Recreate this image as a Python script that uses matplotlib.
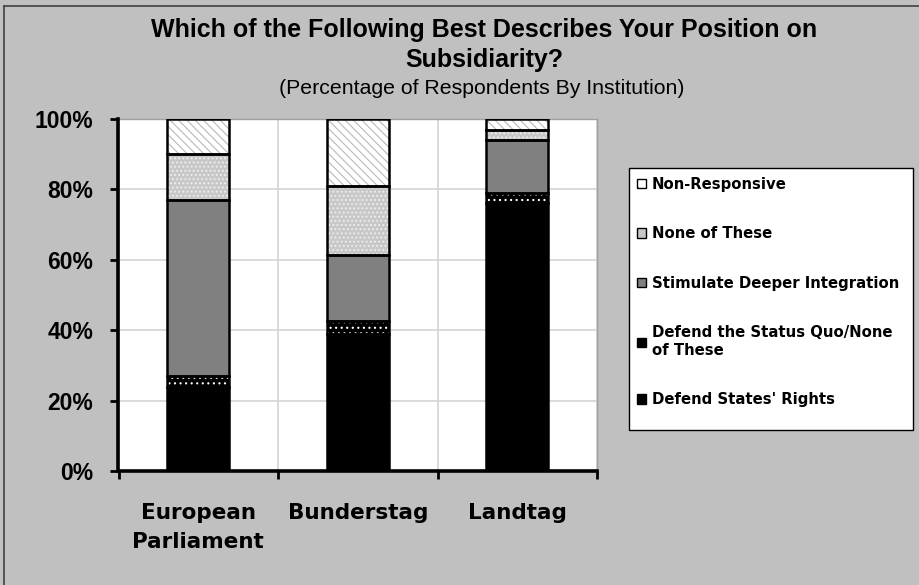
import matplotlib
matplotlib.use("Agg")
import matplotlib.pyplot as plt
from matplotlib.patches import Patch, Rectangle
from matplotlib.lines import Line2D
import numpy as np

# ---------------- data ----------------
categories = ["European\nParliament", "Bunderstag", "Landtag"]
series_names = ["Defend States' Rights",
                "Defend the Status Quo/None\nof These",
                "Stimulate Deeper Integration",
                "None of These",
                "Non-Responsive"]
states_rights = [24, 39, 76]
status_quo = [3, 3.5, 3]
deeper_integration = [50, 19, 15]
none_of_these = [13, 19.5, 3]
non_responsive = [10, 19, 3]
y_ticks = [0, 20, 40, 60, 80, 100]
y_tick_labels = ["0%", "20%", "40%", "60%", "80%", "100%"]

series_values = [states_rights, status_quo, deeper_integration, none_of_these, non_responsive]

# ---------------- styles ----------------
face_colors = ["#000000", "#000000", "#808080", "#c8c8c8", "#ffffff"]
hatch_colors = ["#000000", "#ffffff", "#808080", "#f0f0f0", "#b8b8b8"]
hatches = [None, "...", None, "....", "\\\\\\\\"]

plt.rcParams["hatch.linewidth"] = 0.8
arial = ["Liberation Sans", "DejaVu Sans"]

fig = plt.figure(figsize=(9.19, 5.85), dpi=100)
fig.patch.set_facecolor("#c0c0c0")

ax = fig.add_axes([118.5 / 919, 1 - 471 / 585, (597 - 118.5) / 919, (471 - 119) / 585])
ax.set_facecolor("white")

x = np.arange(len(categories))
bar_w = 0.39
bottom = np.zeros(len(categories))
for vals, fc, hc, h in zip(series_values, face_colors, hatch_colors, hatches):
    vals = np.array(vals, dtype=float)
    ax.bar(x, vals, bar_w, bottom=bottom, color=fc, edgecolor=hc, hatch=h,
           linewidth=0, zorder=3)
    ax.bar(x, vals, bar_w, bottom=bottom, fill=False, edgecolor="black",
           linewidth=1.8, zorder=4)
    bottom += vals

ax.set_xlim(-0.5, len(categories) - 0.5)
ax.set_ylim(0, 100)

ax.set_yticks(y_ticks)
ax.set_yticklabels(y_tick_labels, fontsize=16.5, fontweight="bold", family=arial)
ax.set_xticks(np.arange(-0.5, len(categories), 1.0))
ax.set_xticklabels([])
ax.set_xticks(x, minor=True)
ax.set_xticklabels(categories, minor=True, fontsize=15.5, fontweight="bold",
                   family=["DejaVu Sans"], linespacing=1.55)
ax.tick_params(axis="x", which="minor", length=0, pad=23)
ax.tick_params(axis="x", which="major", direction="out", length=6, width=2)
ax.tick_params(axis="y", which="major", direction="out", length=6, width=2, pad=12)
ax.grid(True, axis="y", color="#d4d4d4", linewidth=1.2, zorder=0)
ax.grid(True, axis="x", which="major", color="#d4d4d4", linewidth=1.2, zorder=0)
ax.set_axisbelow(True)

for side in ["left", "bottom"]:
    ax.spines[side].set_linewidth(2.6)
    ax.spines[side].set_color("black")
    ax.spines[side].set_zorder(5)
for side in ["top", "right"]:
    ax.spines[side].set_linewidth(1)
    ax.spines[side].set_color("#a0a0a0")

# legend
handles = []
for fc, h, name in zip(face_colors, hatches, series_names):
    handles.append(Patch(facecolor=fc, edgecolor="black", linewidth=1.0,
                         hatch=("\\\\" if h and "\\" in h else None), label=name))
handles = handles[::-1]

fig.patches.append(Rectangle((629 / 919, 1 - 430 / 585), (913 - 629) / 919, (430 - 168) / 585,
                             transform=fig.transFigure, facecolor="white",
                             edgecolor="black", linewidth=1.0, zorder=1))
leg = fig.legend(handles=handles, loc="upper left",
                 bbox_to_anchor=(634 / 919, 1 - 174 / 585),
                 frameon=False, handlelength=0.6, handleheight=0.6,
                 handletextpad=0.4, labelspacing=2.32, borderpad=0.2,
                 borderaxespad=0.0,
                 prop={"family": "DejaVu Sans", "weight": "bold", "size": 10.7})
leg.set_zorder(6)

# title
fig.text(0.527, 1 - 30 / 585, "Which of the Following Best Describes Your Position on",
         ha="center", va="center", fontsize=18, fontweight="bold", family=arial)
fig.text(0.527, 1 - 60 / 585, "Subsidiarity?",
         ha="center", va="center", fontsize=18, fontweight="bold", family=arial)
fig.text(0.524, 1 - 88 / 585, "(Percentage of Respondents By Institution)",
         ha="center", va="center", fontsize=15.3, family=arial)

# figure border (left/top)
fig.add_artist(Line2D([4 / 919, 4 / 919], [0, 1 - 6 / 585], transform=fig.transFigure,
                      color="#404040", linewidth=1.2))
fig.add_artist(Line2D([4 / 919, 1], [1 - 6 / 585, 1 - 6 / 585], transform=fig.transFigure,
                      color="#404040", linewidth=1.2))

fig.savefig("out.png", dpi=100, facecolor=fig.get_facecolor())
